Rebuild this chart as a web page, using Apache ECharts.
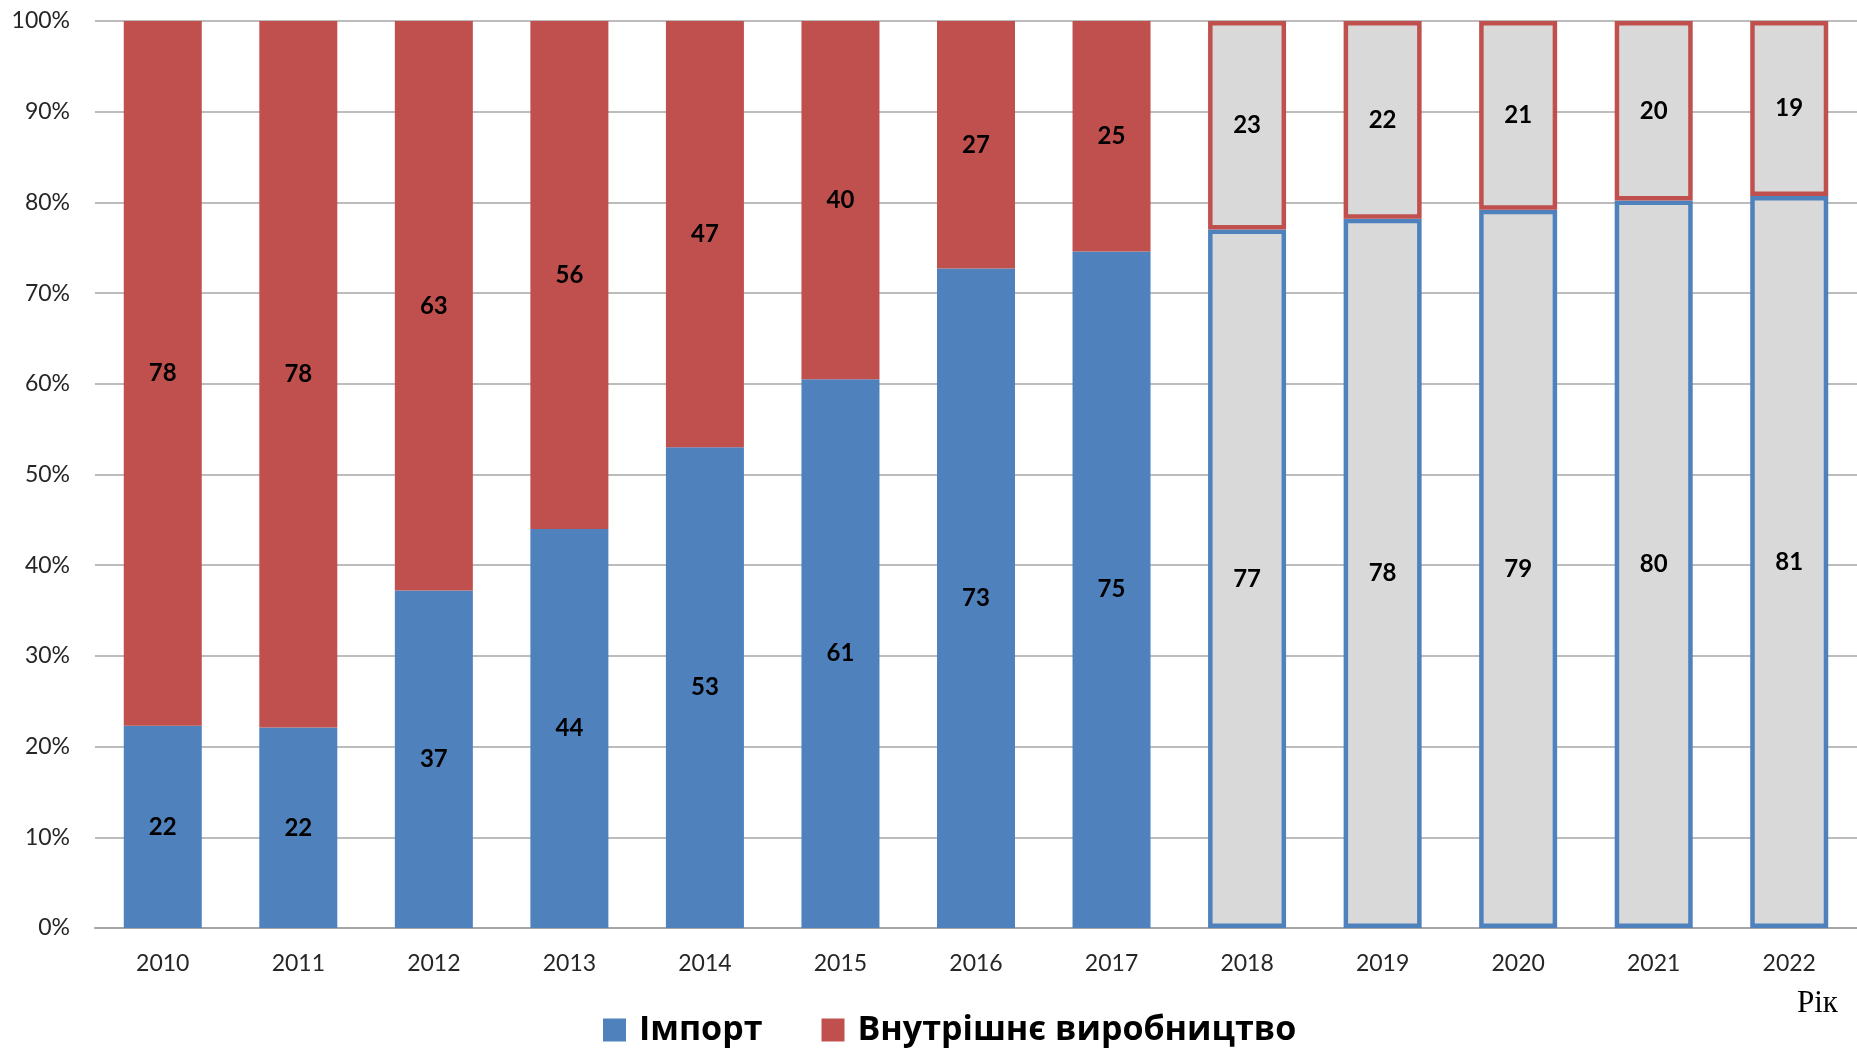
<!DOCTYPE html>
<html>
<head>
<meta charset="utf-8">
<script src="https://cdn.jsdelivr.net/npm/echarts@6/dist/echarts.min.js"></script>
<style>
  html, body { margin: 0; padding: 0; background: #fff; }
  #chart { width: 1857px; height: 1049px; }
</style>
</head>
<body>
<div id="chart"></div>
<script>
// Data (percent shares)
const years = ['2010', '2011', '2012', '2013', '2014', '2015', '2016', '2017', '2018', '2019', '2020', '2021', '2022'];
const importShare   = [22.3, 22.1, 37.2, 44.0, 53.0, 60.5, 72.7, 74.6, 77.0, 78.2, 79.2, 80.2, 80.7];
const domesticShare = [77.7, 77.9, 62.8, 56.0, 47.0, 39.5, 27.3, 25.4, 23.0, 21.8, 20.8, 19.8, 19.3];
const forecastYears = ['2018', '2019', '2020', '2021', '2022'];
const seriesNames = ['Імпорт', 'Внутрішнє виробництво'];
const axisName = 'Рік';

const BLUE = '#4F81BD';
const RED = '#C0504D';
const FORECAST_FILL = '#D9D9D9';

function buildData(values, borderColor) {
  return values.map((v, i) => {
    if (forecastYears.indexOf(years[i]) >= 0) {
      return {
        value: v,
        itemStyle: { color: FORECAST_FILL, borderColor: borderColor, borderWidth: 4.5 }
      };
    }
    return v;
  });
}

const labelStyle = {
  show: true,
  position: 'inside',
  color: '#000',
  fontFamily: 'Lato, "Open Sans", sans-serif',
  fontWeight: 'bold',
  fontSize: 24,
  formatter: p => String(Math.round(p.value))
};

const chart = echarts.init(document.getElementById('chart'), null, { renderer: 'canvas' });
chart.setOption({
  animation: false,
  backgroundColor: '#fff',
  grid: { left: 95, top: 21, width: 1771, height: 907, containLabel: false },
  legend: {
    left: 598,
    top: 1008,
    itemWidth: 23,
    itemHeight: 23,
    itemGap: 59,
    icon: 'rect',
    textStyle: {
      fontFamily: '"Open Sans", "Noto Sans", sans-serif',
      fontWeight: 'bold',
      fontSize: 34,
      color: '#000',
      padding: [0, 0, 0, 8]
    },
    data: seriesNames
  },
  xAxis: {
    type: 'category',
    data: years,
    axisTick: { show: false },
    axisLine: { show: true, lineStyle: { color: '#A6A6A6', width: 2 } },
    axisLabel: {
      margin: 24,
      fontFamily: 'Lato, "Open Sans", sans-serif',
      fontSize: 23,
      color: '#262626'
    }
  },
  yAxis: {
    type: 'value',
    min: 0,
    max: 100,
    interval: 10,
    axisLine: { show: false },
    axisTick: { show: false },
    splitLine: { lineStyle: { color: '#A6A6A6', width: 1.5 } },
    axisLabel: {
      margin: 25,
      formatter: '{value}%',
      fontFamily: 'Lato, "Open Sans", sans-serif',
      fontSize: 23,
      color: '#262626'
    }
  },
  graphic: [{
    type: 'text',
    left: 1797,
    top: 988,
    style: {
      text: axisName,
      font: '31px "Liberation Serif", "DejaVu Serif", serif',
      fill: '#000'
    }
  }],
  series: [
    {
      name: seriesNames[0],
      type: 'bar',
      stack: 'total',
      barWidth: 78,
      itemStyle: { color: BLUE },
      label: labelStyle,
      data: buildData(importShare, BLUE)
    },
    {
      name: seriesNames[1],
      type: 'bar',
      stack: 'total',
      barWidth: 78,
      itemStyle: { color: RED },
      label: labelStyle,
      data: buildData(domesticShare, RED)
    }
  ]
});
</script>
</body>
</html>
